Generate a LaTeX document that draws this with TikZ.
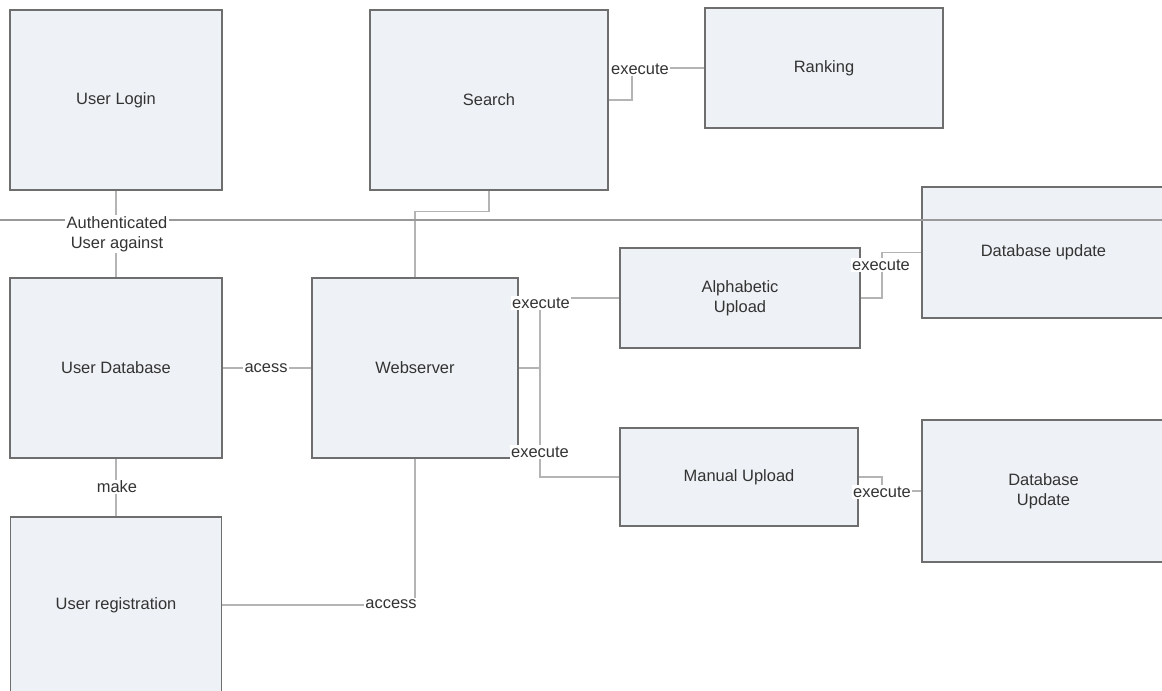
\documentclass[tikz,border=0pt]{standalone}
\usepackage{fontspec}
\setmainfont{Liberation Sans}
\usepackage{tikz}
\usepackage{xcolor}
\definecolor{boxfill}{HTML}{EEF1F5}
\definecolor{boxline}{HTML}{6E6E6E}
\definecolor{wirecol}{HTML}{B4B4B4}
\definecolor{txt}{HTML}{333333}

\begin{document}
\begin{tikzpicture}[x=0.025cm,y=-0.025cm,
        size/.style 2 args={minimum width=#1*0.025cm,minimum height=#2*0.025cm},
        box/.style={draw=boxline,line width=1.1pt,fill=boxfill,text=txt,align=center,inner sep=0pt,font=\fontsize{11.7}{14}\selectfont},
        wire/.style={draw=wirecol,line width=0.8pt},
        divider/.style={draw=black!40,line width=1.3pt},
        lbl/.style={fill=white,text=txt,inner sep=1pt,align=center,font=\fontsize{11.7}{14}\selectfont}]
    \useasboundingbox (0,0) rectangle (1162,690);
    \clip (0,0) rectangle (1162,690);
    \fill[white] (0,0) rectangle (1162,690);

    \node[box,size={212}{180}] (login) at (116,100) {User Login};
    \node[box,size={238}{180}] (search) at (489,100) {Search};
    \node[box,size={238}{120}] (ranking) at (824,68) {Ranking};
    \node[box,size={212}{180}] (userdb) at (116,368) {User Database};
    \node[box,size={206}{180}] (web) at (415,368) {Webserver};
    \node[box,size={240}{100}] (alpha) at (740,298) {Alphabetic\\Upload};
    \node[box,size={238}{98}] (manual) at (739,477) {Manual Upload};
    \node[box,size={243}{131}] (dbupd) at (1043.5,252.5) {Database update};
    \node[box,size={243}{142}] (dbupdmanual) at (1043.5,491) {Database\\Update};
    \node[box,size={211}{176}] (userreg) at (116,605) {User registration};

    \coordinate (fork) at (540,368);
    \draw[wire] (login.south) -- (userdb.north);
    \draw[wire] (userdb.east) -- (web.west);
    \draw[wire] (userdb.south) -- (userreg.north);
    \draw[wire] (userreg.east) -| (web.south);
    \draw[wire] (search.south) -- ++(0,21) -| (web.north);
    \draw[wire] (search.east) -| (632,68) -- (ranking.west);
    \draw[wire] (web.east) -- (fork) |- (alpha.west);
    \draw[wire] (fork) |- (manual.west);
    \draw[wire] (alpha.east) -| (882,252.5) -- (dbupd.west);
    \draw[wire] (manual.east) -| (882,491) -- (dbupdmanual.west);

    \draw[divider] (0,220) -- (1162,220);

    \node[lbl] (authlbl) at (117,234) {Authenticated\\User against};
    \node[lbl] (acesslbl) at (266,368) {acess};
    \node[lbl] (makelbl) at (117,487) {make};
    \node[lbl] (accesslbl) at (391,604) {access};
    \node[lbl] (rankexe) at (640,69) {execute};
    \node[lbl] (alphaexe) at (541,303) {execute};
    \node[lbl] (manualexe) at (540,452) {execute};
    \node[lbl] (dbexe) at (881,265) {execute};
    \node[lbl] (dbmanualexe) at (882,492) {execute};
\end{tikzpicture}
\end{document}
